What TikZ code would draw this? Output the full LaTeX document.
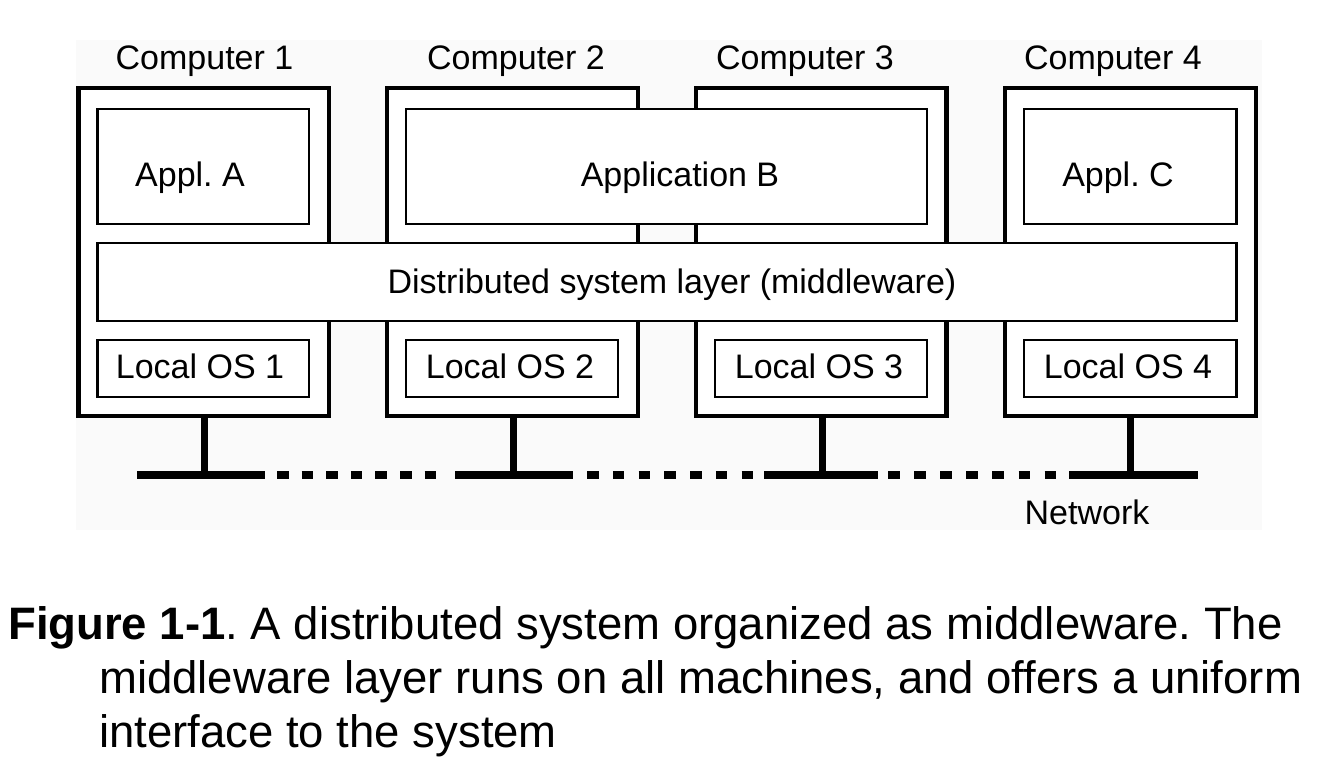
\documentclass[tikz,border=0pt]{standalone}
\usepackage{fontspec}
\setmainfont{Liberation Sans}
\begin{document}
\frenchspacing
\begin{tikzpicture}[x=1pt,y=-1pt,
  comp/.style={draw=black,line width=4.5pt,fill=white,inner sep=0pt,outer sep=0pt},
  inbox/.style={draw=black,line width=2.2pt,fill=white,inner sep=0pt,outer sep=0pt},
  lbl/.style={inner sep=0pt,anchor=base,font=\fontsize{34}{40}\selectfont\frenchspacing},
  captext/.style={inner sep=0pt,anchor=base west,font=\fontsize{45.5}{54}\selectfont\frenchspacing},
  stem/.style={line width=7pt,line cap=butt},
  netsolid/.style={line width=8.5pt,line cap=butt},
  netdash/.style={line width=8.5pt,line cap=butt,dash pattern=on 11.5pt off #1},
]
\useasboundingbox (0,0) rectangle (1323,768);
\fill[black!2] (76,40) rectangle (1262,530);
% computers
\node[comp,minimum width=250.5pt,minimum height=327.5pt] (c1) at (203.75,252) {};
\node[comp,minimum width=251pt,minimum height=327.5pt] (c2) at (512.5,252) {};
\node[comp,minimum width=250.5pt,minimum height=327.5pt] (c3) at (821.25,252) {};
\node[comp,minimum width=251pt,minimum height=327.5pt] (c4) at (1130.5,252) {};
% applications
\node[inbox,minimum width=211.5pt,minimum height=115pt] (aA) at (203.25,166.5) {};
\node[inbox,minimum width=521pt,minimum height=115pt] (aB) at (666.5,166.5) {};
\node[inbox,minimum width=212.5pt,minimum height=115pt] (aC) at (1130.25,166.5) {};
% middleware
\node[inbox,minimum width=1139pt,minimum height=78pt] (mw) at (667,282) {};
% local OS
\node[inbox,minimum width=211.5pt,minimum height=57.5pt] (os1) at (203.25,368.5) {};
\node[inbox,minimum width=212pt,minimum height=57.5pt] (os2) at (512,368.5) {};
\node[inbox,minimum width=212pt,minimum height=57.5pt] (os3) at (821,368.5) {};
\node[inbox,minimum width=212.5pt,minimum height=57.5pt] (os4) at (1130.25,368.5) {};
% labels
\node[lbl] (t1) at (204.5,70) {Computer 1};
\node[lbl] (t2) at (516,70) {Computer 2};
\node[lbl] (t3) at (805,70) {Computer 3};
\node[lbl] (t4) at (1113,70) {Computer 4};
\node[lbl] (lA) at (190,186) {Appl. A};
\node[lbl] (lB) at (680,186) {Application B};
\node[lbl] (lC) at (1118,186) {Appl. C};
\node[lbl] (lmw) at (672,293) {Distributed system layer (middleware)};
\node[lbl] (lo1) at (200,378) {Local OS 1};
\node[lbl] (lo2) at (510,378) {Local OS 2};
\node[lbl] (lo3) at (819,378) {Local OS 3};
\node[lbl] (lo4) at (1128,378) {Local OS 4};
\node[lbl] (lnet) at (1087,524) {Network};
% network
\coordinate (s1a) at (137,475); \coordinate (s1b) at (265,475);
\coordinate (s2a) at (455,475); \coordinate (s2b) at (573,475);
\coordinate (s3a) at (764,475); \coordinate (s3b) at (878,475);
\coordinate (s4a) at (1069,475); \coordinate (s4b) at (1198,475);
\coordinate (d1a) at (277,475); \coordinate (d1b) at (436,475);
\coordinate (d2a) at (587,475); \coordinate (d2b) at (753,475);
\coordinate (d3a) at (888,475); \coordinate (d3b) at (1056,475);
\draw[netsolid] (s1a) -- (s1b);
\draw[netsolid] (s2a) -- (s2b);
\draw[netsolid] (s3a) -- (s3b);
\draw[netsolid] (s4a) -- (s4b);
\draw[netdash=13.1pt] (d1a) -- (d1b);
\draw[netdash=14.25pt] (d2a) -- (d2b);
\draw[netdash=14.6pt] (d3a) -- (d3b);
% stems
\draw[stem] ([xshift=0.25pt]c1.south) -- ([xshift=0.25pt]c1.south |- s1a);
\draw[stem] ([xshift=0.5pt]c2.south) -- ([xshift=0.5pt]c2.south |- s2a);
\draw[stem] ([xshift=0.75pt]c3.south) -- ([xshift=0.75pt]c3.south |- s3a);
\draw[stem] ([xshift=-0.5pt]c4.south) -- ([xshift=-0.5pt]c4.south |- s4a);
% caption
\node[captext] (cap1) at (8,639) {\textbf{Figure 1-1}. A distributed system organized as middleware. The};
\node[captext] (cap2) at (99,693) {middleware layer runs on all machines, and offers a uniform};
\node[captext] (cap3) at (99,747) {interface to the system};
\end{tikzpicture}
\end{document}
